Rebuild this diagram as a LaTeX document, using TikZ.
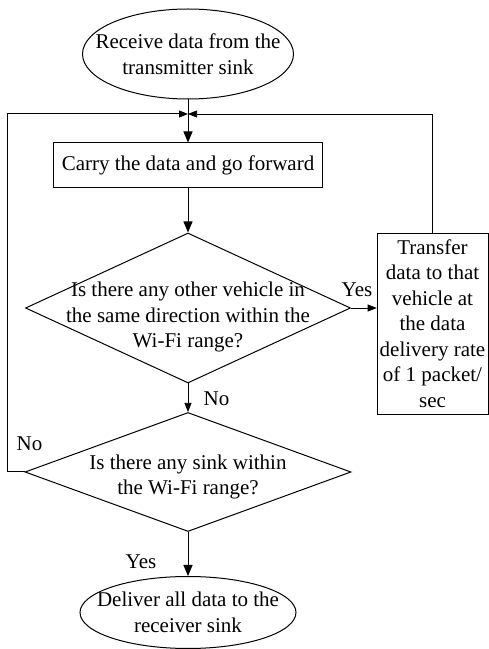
\documentclass[tikz,border=0pt]{standalone}
\usepackage{fontspec}
\setmainfont{Liberation Serif}
\usetikzlibrary{shapes.geometric,arrows.meta}

\begin{document}
\begin{tikzpicture}[x=1pt, y=1pt,
  font=\fontsize{21}{25.5}\selectfont,
  >={Triangle[length=11pt,width=9pt]},
  small/.style={-{Triangle[length=9pt,width=7pt]}},
  terminal/.style={ellipse, draw, line width=1pt, inner xsep=-20pt, inner ysep=0pt, align=center},
  process/.style={rectangle, draw, line width=1pt, minimum width=269pt, minimum height=45pt},
  decision/.style={diamond, draw, line width=1pt, inner sep=0pt},
  thinbox/.style={rectangle, draw, line width=0.6pt, inner sep=2pt, align=center}]
\useasboundingbox (0,0) rectangle (489,649);

% shapes
\node[terminal, minimum width=211pt, minimum height=90pt] (start) at (188,595) {Receive data from the\\transmitter sink};
\node[process] (carry) at (188,483.5) {Carry the data and go forward};
\node[decision, minimum width=325pt, minimum height=150pt] (d1) at (188,341) {};
\node[align=center] (d1text) at (188,332) {Is there any other vehicle in\\the same direction within the\\Wi-Fi range?};
\node[thinbox, minimum width=111pt, minimum height=181pt] (transfer) at (432.5,325.5) {Transfer\\data to that\\vehicle at\\the data\\delivery rate\\of 1 packet/\\sec};
\node[decision, minimum width=326pt, minimum height=119pt] (d2) at (188,177) {};
\node[align=center] (d2text) at (188,172) {Is there any sink within\\the Wi-Fi range?};
\node[terminal, minimum width=216pt, minimum height=72pt] (finish) at (188,36.5) {Deliver all data to the\\receiver sink};

\coordinate (merge) at (188,535);

% connectors
\draw[->, line width=1pt] (start) -- (carry);
\draw[->, line width=1pt] (carry) -- (d1);
\draw[small, line width=0.6pt] (d1.east) -- (d1.east -| transfer.west);
\draw[small, line width=0.7pt] (d1) -- (d2);
\draw[->, line width=1pt] (d2) -- (finish);

\draw[small, line width=1pt] (d2.west) -- ++(-17,0) |- (merge);
\draw[small, line width=0.6pt] (transfer.north) |- (merge);

% labels
\node (yes1) at (357,359) {Yes};
\node (no1) at (216.5,250) {No};
\node (no2) at (29.5,205) {No};
\node (yes2) at (141,87) {Yes};

\end{tikzpicture}
\end{document}
